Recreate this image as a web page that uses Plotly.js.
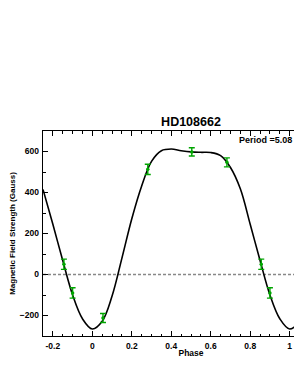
<!DOCTYPE html>
<html><head><meta charset="utf-8">
<script src="https://cdn.plot.ly/plotly-3.0.1.min.js"></script>
<style>html,body{margin:0;padding:0;overflow:hidden;background:#fff;}</style>
</head><body>
<div id="chart" style="width:360px;height:381px;"></div>
<script>
// Observed data (phase, field, error)
var obsPhase = [-0.144, -0.100, 0.054, 0.281, 0.504, 0.682, 0.856, 0.900];
var obsField = [50, -90, -212, 513, 598, 547, 50, -90];
var obsErr   = [25, 25, 22, 25, 20, 22, 25, 25];

// Fitted curve
var fitPhase = [-0.25,-0.2,-0.15,-0.1,-0.05,0,0.05,0.1,0.15,0.2,0.25,0.3,0.35,0.4,0.45,0.5,0.55,0.6,0.65,0.7,0.75,0.8,0.85,0.9,0.95,1.0,1.05,1.1,1.15,1.2,1.25];
var fitField = [415,245,68,-100,-216,-266,-228,-105,80,272,432,552,604,612,604,598,596,595,580,522,418,245,68,-100,-216,-266,-228,-105,80,272,432];

var titleText = "HD108662";
var periodText = "Period =5.08 d";
var xTitle = "Phase";
var yTitle = "Magnetic Field Strength (Gauss)";

var green = "rgb(0,165,0)";
var fnt = "Liberation Sans, Arial, Helvetica, sans-serif";

var traces = [
  {x: fitPhase, y: fitField, mode: "lines", type: "scatter",
   line: {color: "#000", width: 1.6, shape: "spline", smoothing: 1}, hoverinfo: "skip"},
  {x: obsPhase, y: obsField, mode: "markers", type: "scatter",
   marker: {color: green, size: 3.5},
   error_y: {type: "data", array: obsErr, visible: true, color: green, thickness: 1.4, width: 3}}
];

var axisCommon = {
  showgrid: false, zeroline: false, showline: true, linecolor: "#000", linewidth: 1.3,
  mirror: "allticks", ticks: "inside", ticklen: 5, tickwidth: 1, tickcolor: "#000",
  tickfont: {family: fnt, size: 8.5, color: "#000", weight: "bold"}
};

var layout = {
  width: 360, height: 381,
  margin: {l: 43, r: 21, t: 131, b: 45},
  paper_bgcolor: "#fff", plot_bgcolor: "#fff",
  showlegend: false,
  title: {text: "<b>" + titleText + "</b>", font: {family: fnt, size: 12.5, color: "#000"},
          x: 0.5, xref: "paper", y: 1, yref: "paper", yanchor: "bottom", pad: {b: 5}},
  xaxis: Object.assign({}, axisCommon, {
    range: [-0.25, 1.25], tickvals: [-0.2,0,0.2,0.4,0.6,0.8,1.0,1.2],
    ticktext: ["-0.2","0","0.2","0.4","0.6","0.8","1","1.2"],
    minor: {dtick: 0.05, ticks: "inside", ticklen: 2.5, tickcolor: "#000", tickwidth: 1},
    ticklabelstandoff: 1,
    title: {text: "<b>" + xTitle + "</b>", font: {family: fnt, size: 8.5, color: "#000"}, standoff: 0}
  }),
  yaxis: Object.assign({}, axisCommon, {
    range: [-300, 700], tickvals: [-200,0,200,400,600],
    minor: {dtick: 100, ticks: "inside", ticklen: 2.5, tickcolor: "#000", tickwidth: 1},
    ticklabelstandoff: 1,
    title: {text: "<b>" + yTitle + "</b>", font: {family: fnt, size: 8, color: "#000"}, standoff: 3}
  }),
  shapes: [{type: "line", xref: "paper", x0: 0, x1: 1, yref: "y", y0: 0, y1: 0,
            line: {color: "#888", width: 1.3, dash: "3px,2px"}, layer: "below"}],
  annotations: [{xref: "paper", yref: "paper", x: 0.655, y: 0.988, xanchor: "left", yanchor: "top",
                 text: "<b>" + periodText + "</b>", showarrow: false,
                 font: {family: fnt, size: 9, color: "#000"}}]
};

Plotly.newPlot("chart", traces, layout, {displayModeBar: false, staticPlot: true});
</script>
</body></html>
